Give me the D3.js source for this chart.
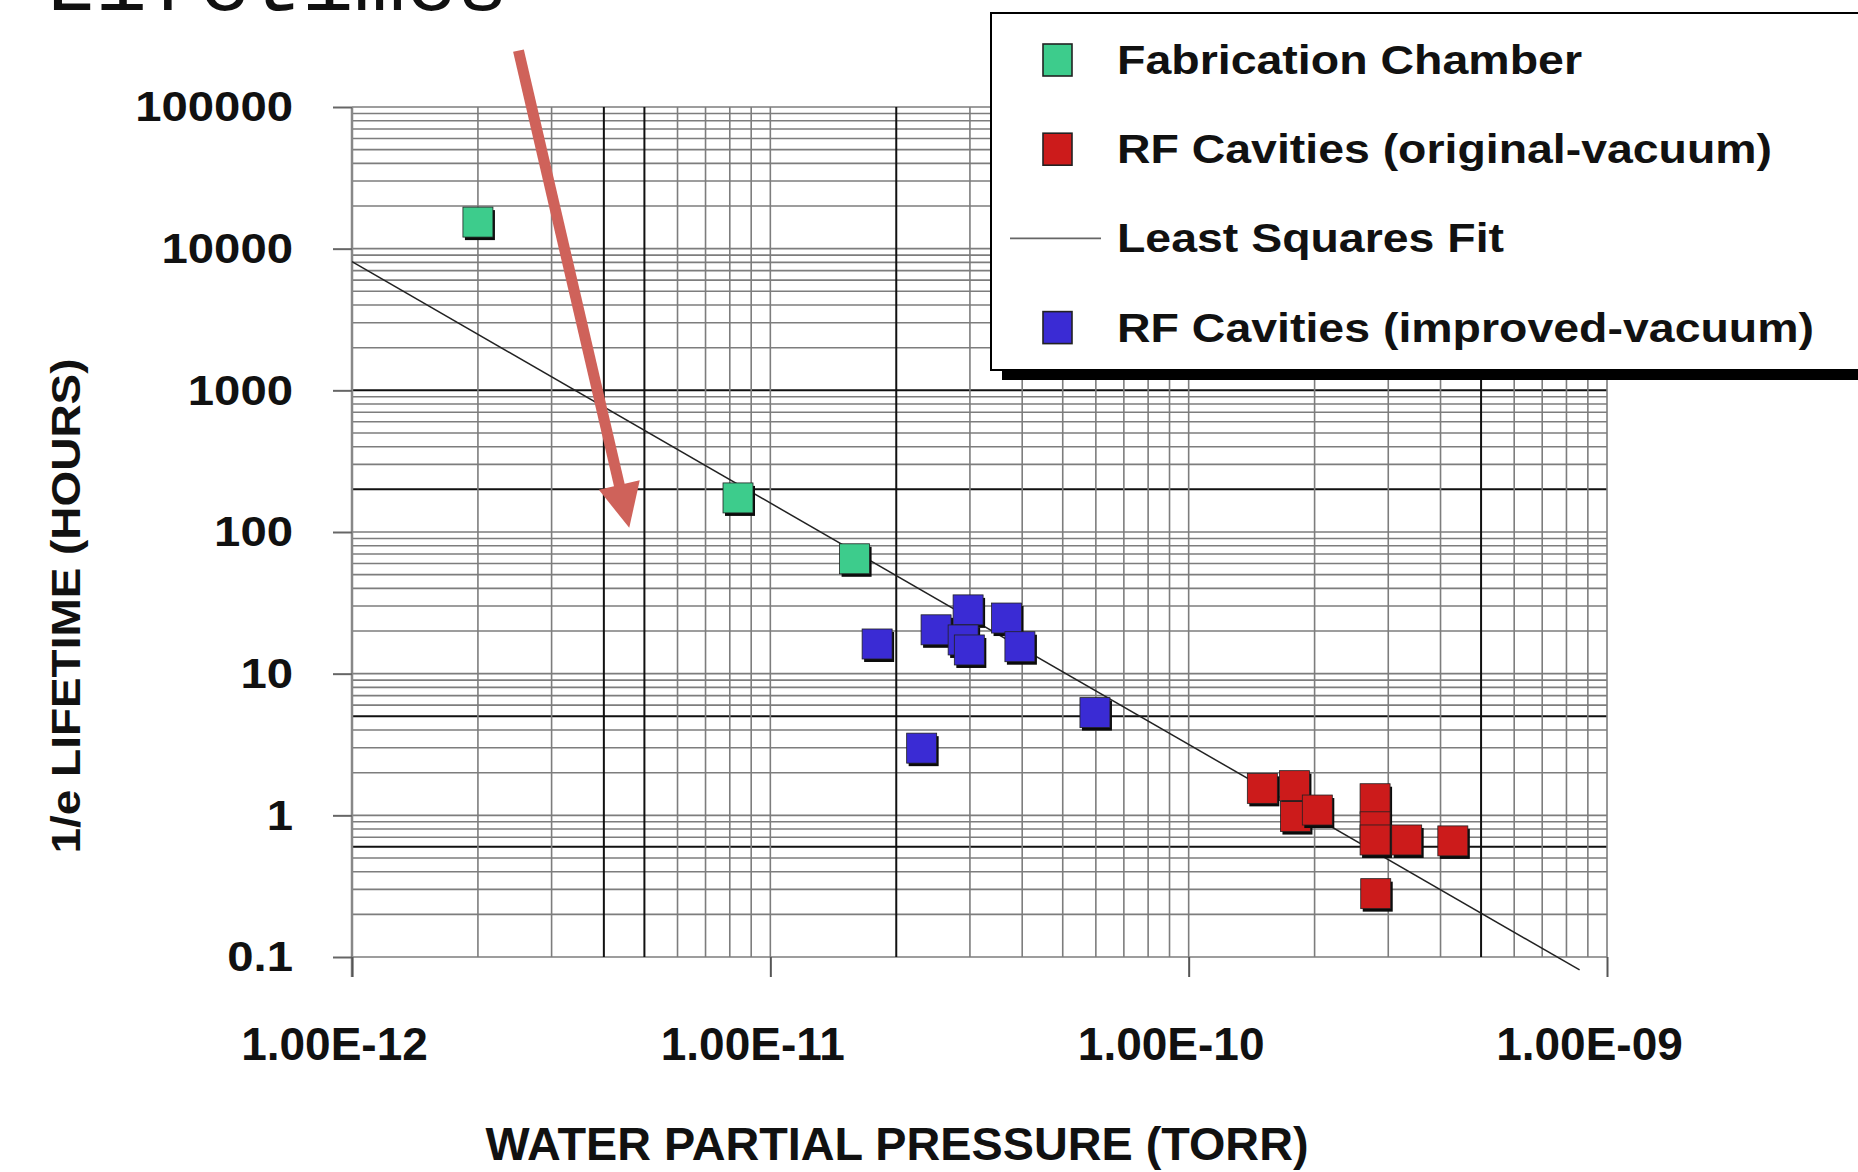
<!DOCTYPE html>
<html>
<head>
<meta charset="utf-8">
<script src="https://cdn.jsdelivr.net/npm/d3@7"></script>
<style>
body { margin: 0; background: #fff; }
svg { display: block; }
text { font-family: "Liberation Sans", Arial, sans-serif; font-weight: bold; fill: #111; }
</style>
</head>
<body>
<div id="chart"></div>
<script>
// values (pressure in torr, lifetime in hours)
var fabPressure = [2.0e-12, 8.37e-12, 1.59e-11];
var fabLifetime = [15400, 174, 64.7];

var improvedPressure = [1.80e-11, 2.30e-11, 2.49e-11, 2.97e-11, 2.89e-11, 2.99e-11, 3.67e-11, 3.95e-11, 5.97e-11];
var improvedLifetime = [16.2, 2.98, 20.4, 28.2, 17.3, 14.7, 24.7, 15.5, 5.31];

var originalPressure = [1.50e-10, 1.79e-10, 1.80e-10, 2.03e-10, 2.79e-10, 2.79e-10, 2.79e-10, 3.32e-10, 4.28e-10, 2.80e-10];
var originalLifetime = [1.55, 1.62, 0.98, 1.09, 1.31, 0.83, 0.67, 0.67, 0.66, 0.28];

var fitPressure = [1e-12, 8.6e-10];
var fitLifetime = [8100, 0.081];

var arrowPressure = [2.5e-12, 4.6e-12];
var arrowLifetime = [250000, 107];

var xTickValues = [1e-12, 1e-11, 1e-10, 1e-9];
var xTickLabels = ["1.00E-12", "1.00E-11", "1.00E-10", "1.00E-09"];
var yTickValues = [0.1, 1, 10, 100, 1000, 10000, 100000];
var yTickLabels = ["0.1", "1", "10", "100", "1000", "10000", "100000"];

var legendLabels = ["Fabrication Chamber", "RF Cavities (original-vacuum)", "Least Squares Fit", "RF Cavities (improved-vacuum)"];
var seriesColors = ["#3dcc8c", "#cc1b1b", "#222", "#3a2bd4"];

var width = 1858, height = 1172;

var svg = d3.select("#chart")
            .append("svg")
            .attr("width", width)
            .attr("height", height);

var x = d3.scaleLog().domain([1e-12, 1e-9]).range([352, 1607]);
var y = d3.scaleLog().domain([0.1, 100000]).range([957, 107]);

// slide title, mostly cut off at the top
svg.append("text")
   .attr("x", 44)
   .attr("y", 10)
   .style("font-family", '"Liberation Mono", "Courier New", monospace')
   .style("font-weight", "normal")
   .style("font-size", "86px")
   .text("Lifetimes");

// grid lines, some of them darker like in the scan
var darkX = [4e-12, 5e-12, 2e-11, 5e-10];
var darkY = [1000, 200, 5, 0.6];
function isDark(list, v) {
    return list.some(function(d) { return Math.abs(Math.log10(d) - Math.log10(v)) < 1e-6; });
}

var grid = svg.append("g");
grid.selectAll(".hgrid")
    .data(y.ticks())
    .enter()
    .append("line")
    .attr("x1", x.range()[0])
    .attr("x2", x.range()[1])
    .attr("y1", function(d) { return y(d); })
    .attr("y2", function(d) { return y(d); })
    .attr("stroke", function(d) { return isDark(darkY, d) ? "#111" : "#7d7d7d"; })
    .attr("stroke-width", function(d) { return isDark(darkY, d) ? 2 : 1.6; });

grid.selectAll(".vgrid")
    .data(x.ticks())
    .enter()
    .append("line")
    .attr("y1", y.range()[1])
    .attr("y2", y.range()[0])
    .attr("x1", function(d) { return x(d); })
    .attr("x2", function(d) { return x(d); })
    .attr("stroke", function(d) { return isDark(darkX, d) ? "#111" : "#7d7d7d"; })
    .attr("stroke-width", function(d) { return isDark(darkX, d) ? 2 : 1.6; });

// y axis
svg.append("line")
   .attr("x1", x.range()[0]).attr("x2", x.range()[0])
   .attr("y1", y.range()[1]).attr("y2", y.range()[0] + 20)
   .attr("stroke", "#888").attr("stroke-width", 2.5);

var yAxis = svg.append("g")
    .attr("transform", "translate(" + x.range()[0] + ",0)")
    .call(d3.axisLeft(y)
            .tickValues(yTickValues)
            .tickFormat(function(d, i) { return yTickLabels[i]; })
            .tickSize(19)
            .tickPadding(40));
yAxis.select(".domain").remove();
yAxis.selectAll(".tick line").attr("stroke", "#666").attr("stroke-width", 2);
yAxis.selectAll(".tick text")
     .attr("fill", "#111")
     .style("font-size", "43px")
     .each(function() {
         var len = this.getComputedTextLength();
         d3.select(this).attr("textLength", len * 1.1).attr("lengthAdjust", "spacingAndGlyphs");
     });

// x axis
var xAxis = svg.append("g")
    .attr("transform", "translate(0," + y.range()[0] + ")")
    .call(d3.axisBottom(x)
            .tickValues(xTickValues)
            .tickFormat(function(d, i) { return xTickLabels[i]; })
            .tickSize(20)
            .tickPadding(50));
xAxis.select(".domain").remove();
xAxis.selectAll(".tick line").attr("stroke", "#555").attr("stroke-width", 2);
xAxis.selectAll(".tick text")
     .attr("fill", "#111")
     .attr("dx", -18)
     .style("font-size", "46px");

// axis titles
svg.append("text")
   .attr("transform", "translate(80,606) rotate(-90)")
   .attr("text-anchor", "middle")
   .attr("textLength", 495)
   .attr("lengthAdjust", "spacingAndGlyphs")
   .style("font-size", "40px")
   .text("1/e LIFETIME (HOURS)");

svg.append("text")
   .attr("x", 897)
   .attr("y", 1160)
   .attr("text-anchor", "middle")
   .attr("textLength", 823)
   .attr("lengthAdjust", "spacingAndGlyphs")
   .style("font-size", "46px")
   .text("WATER PARTIAL PRESSURE (TORR)");

// least squares fit
var fitLine = d3.line()
    .x(function(d) { return x(d[0]); })
    .y(function(d) { return y(d[1]); });
svg.append("path")
   .datum(d3.zip(fitPressure, fitLifetime))
   .attr("d", fitLine)
   .attr("fill", "none")
   .attr("stroke", "#222")
   .attr("stroke-width", 1.5);

// square markers with a dark drop edge
function drawSeries(pressures, lifetimes, color) {
    var pts = d3.zip(pressures, lifetimes);
    var g = svg.append("g");
    var m = g.selectAll("g")
             .data(pts)
             .enter()
             .append("g")
             .attr("transform", function(d) { return "translate(" + x(d[0]) + "," + y(d[1]) + ")"; });
    m.append("rect")
     .attr("x", -13).attr("y", -12)
     .attr("width", 30).attr("height", 30)
     .attr("fill", "#0b0b0b");
    m.append("rect")
     .attr("x", -15).attr("y", -15)
     .attr("width", 30).attr("height", 30)
     .attr("fill", color)
     .attr("stroke", "#222")
     .attr("stroke-width", 0.8);
}
drawSeries(fabPressure, fabLifetime, seriesColors[0]);
drawSeries(improvedPressure, improvedLifetime, seriesColors[3]);
drawSeries(originalPressure, originalLifetime, seriesColors[1]);

// red annotation arrow
var a0 = [x(arrowPressure[0]), y(arrowLifetime[0])];
var a1 = [x(arrowPressure[1]), y(arrowLifetime[1])];
var dx = a1[0] - a0[0], dy = a1[1] - a0[1];
var len = Math.sqrt(dx * dx + dy * dy);
var ux = dx / len, uy = dy / len;
var headLen = 44, headHalf = 21;
var base = [a1[0] - ux * headLen, a1[1] - uy * headLen];
svg.append("line")
   .attr("x1", a0[0]).attr("y1", a0[1])
   .attr("x2", base[0] + ux * 4).attr("y2", base[1] + uy * 4)
   .attr("stroke", "#cf625a")
   .attr("stroke-width", 11);
svg.append("path")
   .attr("d", "M" + a1[0] + "," + a1[1] +
              "L" + (base[0] - uy * headHalf) + "," + (base[1] + ux * headHalf) +
              "L" + (base[0] + uy * headHalf) + "," + (base[1] - ux * headHalf) + "Z")
   .attr("fill", "#cf625a");

// legend
var legend = svg.append("g");
legend.append("rect")
      .attr("x", 1002).attr("y", 24)
      .attr("width", 900).attr("height", 356)
      .attr("fill", "#000");
legend.append("rect")
      .attr("x", 991).attr("y", 13)
      .attr("width", 900).attr("height", 357)
      .attr("fill", "#fff")
      .attr("stroke", "#000")
      .attr("stroke-width", 2);

var legendWidths = [465, 655, 387, 697];
var rows = legend.selectAll(".row")
    .data(legendLabels)
    .enter()
    .append("g")
    .attr("transform", function(d, i) { return "translate(0," + (60 + i * 89.2) + ")"; });

rows.each(function(d, i) {
    var r = d3.select(this);
    if (i === 2) {
        r.append("line")
         .attr("x1", 1010).attr("x2", 1101)
         .attr("y1", 0).attr("y2", 0)
         .attr("stroke", "#666").attr("stroke-width", 1.8);
    } else {
        r.append("rect")
         .attr("x", 1043).attr("y", -16)
         .attr("width", 29).attr("height", 32)
         .attr("fill", seriesColors[i])
         .attr("stroke", "#222")
         .attr("stroke-width", 1.6);
    }
    r.append("text")
     .attr("x", 1117)
     .attr("y", 14)
     .attr("textLength", legendWidths[i])
     .attr("lengthAdjust", "spacingAndGlyphs")
     .style("font-size", "40px")
     .text(d);
});
</script>
</body>
</html>
